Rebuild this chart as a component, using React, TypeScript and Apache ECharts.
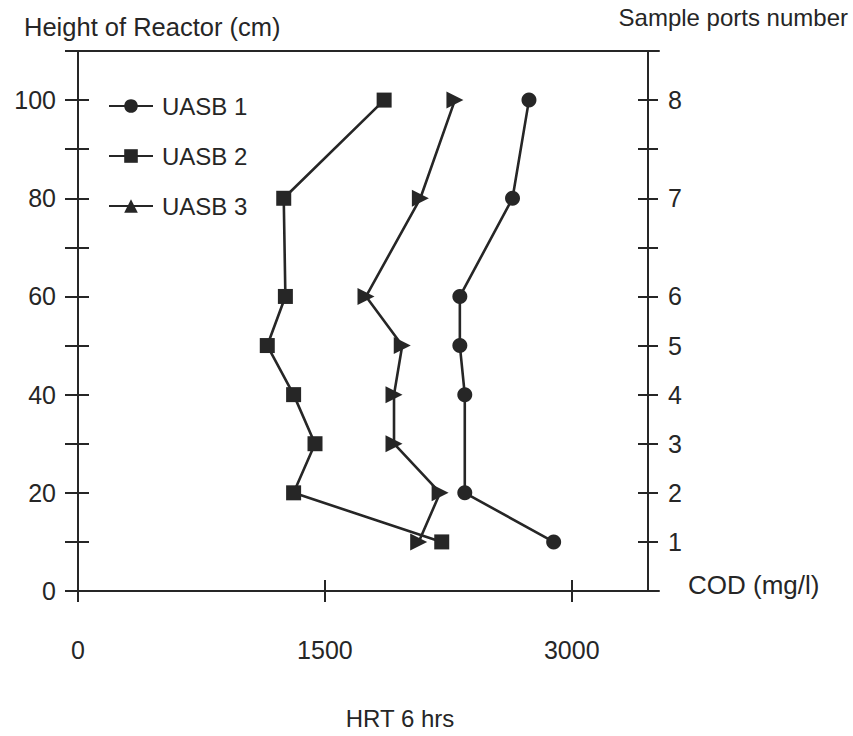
import React, { useEffect, useRef } from "react";
import * as echarts from "echarts";

const INK = "#262626";
const FONT = "'Liberation Sans', Arial, Helvetica, sans-serif";

// Axis ticks and labels
const codTicks = [0, 1500, 3000];
const heightLabels = [0, 20, 40, 60, 80, 100];
const portHeights = [10, 20, 30, 40, 50, 60, 80, 100];
const portNumbers = ["1", "2", "3", "4", "5", "6", "7", "8"];

// COD profiles along the reactor height (cm) — HRT 6 hrs
const uasb1Height = [100, 80, 60, 50, 40, 20, 10];
const uasb1Cod = [2740, 2640, 2320, 2320, 2350, 2350, 2890];

const uasb2Height = [100, 80, 60, 50, 40, 30, 20, 10];
const uasb2Cod = [1860, 1250, 1260, 1150, 1310, 1440, 1310, 2210];

const uasb3Height = [100, 80, 60, 50, 40, 30, 20, 10];
const uasb3Cod = [2290, 2080, 1750, 1970, 1920, 1920, 2200, 2070];

const toPoints = (cod: number[], h: number[]) => cod.map((c, i) => [c, h[i]]);

const textBase = { color: INK, fontFamily: FONT, fontSize: 24 };
const digitText = { color: INK, fontFamily: FONT, fontSize: 25 };

function lineSeries(name: string, symbol: string, data: number[][], rotate = 0) {
  return {
    name,
    type: "line",
    xAxisIndex: 0,
    yAxisIndex: 0,
    data,
    symbol,
    symbolSize: symbol === "triangle" ? 17 : 15,
    symbolRotate: rotate,
    itemStyle: { color: INK },
    lineStyle: { color: INK, width: 2.6 },
    z: 5,
  };
}

const X_MAX = 3530;
const Y_MAX = 110;

const tickStyle = { color: INK, width: 2 };
const lineStyle = { color: INK, width: 2 };

const option = {
  animation: false,
  backgroundColor: "#ffffff",
  grid: { left: 78, right: 194, top: 51, bottom: 145, containLabel: false },
  legend: {
    orient: "vertical",
    left: 103,
    top: 89,
    itemWidth: 44,
    itemHeight: 17,
    itemGap: 26,
    symbolRotate: 0,
    textStyle: { ...textBase, padding: [0, 0, 0, 4] },
    data: ["UASB 1", "UASB 2", "UASB 3"],
  },
  xAxis: [
    {
      type: "value",
      position: "bottom",
      min: 0,
      max: X_MAX,
      axisLine: { show: true, onZero: false, lineStyle },
      axisTick: { show: true, inside: false, length: 11, customValues: codTicks, lineStyle: tickStyle },
      axisLabel: { show: true, customValues: codTicks, margin: 46, formatter: (v: number) => String(v), ...digitText },
      splitLine: { show: false },
    },
    {
      type: "value",
      position: "bottom",
      min: 0,
      max: X_MAX,
      axisLine: { show: false, onZero: false },
      axisTick: { show: true, inside: true, length: 11, customValues: codTicks, lineStyle: tickStyle },
      axisLabel: { show: false },
      splitLine: { show: false },
    },
    {
      type: "value",
      position: "top",
      min: 0,
      max: X_MAX,
      axisLine: { show: true, onZero: false, lineStyle },
      axisTick: { show: false },
      axisLabel: { show: false },
      splitLine: { show: false },
    },
  ],
  yAxis: [
    {
      type: "value",
      position: "left",
      min: 0,
      max: Y_MAX,
      interval: 10,
      axisLine: { show: true, onZero: false, lineStyle },
      axisTick: { show: true, inside: false, length: 13, lineStyle: tickStyle },
      axisLabel: { show: true, customValues: heightLabels, margin: 22, formatter: (v: number) => String(v), ...digitText },
      splitLine: { show: false },
    },
    {
      type: "value",
      position: "left",
      min: 0,
      max: Y_MAX,
      interval: 10,
      axisLine: { show: false, onZero: false },
      axisTick: { show: true, inside: true, length: 11, lineStyle: tickStyle },
      axisLabel: { show: false },
      splitLine: { show: false },
    },
    {
      type: "value",
      position: "right",
      offset: -11,
      min: 0,
      max: Y_MAX,
      interval: 10,
      axisLine: { show: true, onZero: false, lineStyle },
      axisTick: { show: true, inside: false, length: 10, lineStyle: tickStyle },
      axisLabel: {
        show: true,
        customValues: portHeights,
        margin: 20,
        formatter: (v: number) => portNumbers[portHeights.indexOf(v)] ?? "",
        ...digitText,
      },
      splitLine: { show: false },
    },
    {
      type: "value",
      position: "right",
      offset: -11,
      min: 0,
      max: Y_MAX,
      interval: 10,
      axisLine: { show: false, onZero: false },
      axisTick: { show: true, inside: true, length: 10, lineStyle: tickStyle },
      axisLabel: { show: false },
      splitLine: { show: false },
    },
  ],
  graphic: [
    {
      type: "text",
      x: 24,
      y: 27,
      style: { text: "Height of Reactor (cm)", fill: INK, fontFamily: FONT, fontSize: 25.5, verticalAlign: "middle", align: "left" },
    },
    {
      type: "text",
      x: 848,
      y: 17,
      style: { text: "Sample ports number", fill: INK, fontFamily: FONT, fontSize: 24, verticalAlign: "middle", align: "right" },
    },
    {
      type: "text",
      x: 688,
      y: 585,
      style: { text: "COD (mg/l)", fill: INK, fontFamily: FONT, fontSize: 26, verticalAlign: "middle", align: "left" },
    },
    {
      type: "text",
      x: 400,
      y: 718,
      style: { text: "HRT 6 hrs", fill: INK, fontFamily: FONT, fontSize: 24, verticalAlign: "middle", align: "center" },
    },
  ],
  series: [
    lineSeries("UASB 1", "circle", toPoints(uasb1Cod, uasb1Height)),
    lineSeries("UASB 2", "rect", toPoints(uasb2Cod, uasb2Height)),
    lineSeries("UASB 3", "triangle", toPoints(uasb3Cod, uasb3Height), -90),
  ],
};

export default function App() {
  const ref = useRef<HTMLDivElement>(null);
  useEffect(() => {
    document.body.style.margin = "0";
    const chart = echarts.init(ref.current!, null, { renderer: "svg" });
    chart.setOption(option as any);
    return () => chart.dispose();
  }, []);
  return <div ref={ref} style={{ width: 853, height: 736 }} />;
}
